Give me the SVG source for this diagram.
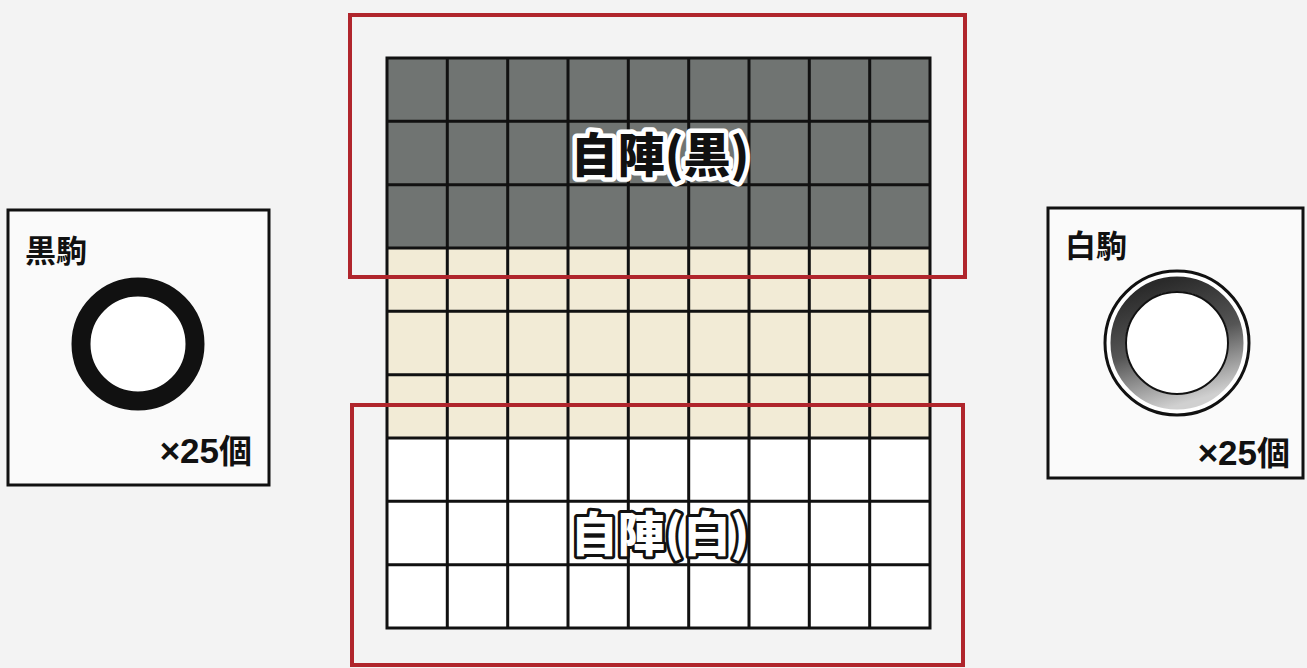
<svg xmlns="http://www.w3.org/2000/svg" width="1307" height="668" viewBox="0 0 1307 668">
<style>
.grid{stroke:#111;stroke-width:3;fill:none}
.red{fill:none;stroke:#b0252c;stroke-width:4}
.box{fill:#fafafa;stroke:#111;stroke-width:3}
.lbl{font-family:"Noto Sans CJK JP","Noto Sans",sans-serif;font-weight:bold;fill:#111}
.num{font-family:"Liberation Sans",Arial,sans-serif;font-weight:bold}
.big{font-family:"Noto Sans CJK JP","Noto Sans",sans-serif;font-weight:900;font-size:47px;paint-order:stroke;stroke-linejoin:round}
</style>
<defs>
<linearGradient id="ringg" x1="0.3" y1="0" x2="0.6" y2="1">
<stop offset="0" stop-color="#2a2a2a"/>
<stop offset="0.5" stop-color="#555"/>
<stop offset="1" stop-color="#d0d0d0"/>
</linearGradient>
</defs>
<rect width="1307" height="668" fill="#f3f3f3"/>
<g id="board">
<rect x="387" y="58" width="543" height="190" fill="#707472"/>
<rect x="387" y="248" width="543" height="190" fill="#f2ebd6"/>
<rect x="387" y="438" width="543" height="190" fill="#ffffff"/>
<g class="grid">
<rect x="387" y="58" width="543" height="570"/>
<path d="M447.3 58V628M507.7 58V628M568 58V628M628.3 58V628M688.7 58V628M749 58V628M809.3 58V628M869.7 58V628"/>
<path d="M387 121.3H930M387 184.7H930M387 248H930M387 311.3H930M387 374.7H930M387 438H930M387 501.3H930M387 564.7H930"/>
</g>
</g>
<g id="black-camp">
<rect class="red" x="350" y="15" width="615" height="262"/>
<text class="big" x="660" y="172" text-anchor="middle" fill="#111" stroke="#fff" stroke-width="9">自陣(黒)</text>
</g>
<g id="white-camp">
<rect class="red" x="352" y="405" width="611" height="260"/>
<text class="big" x="660" y="551" text-anchor="middle" fill="#fff" stroke="#111" stroke-width="6">自陣(白)</text>
</g>
<g id="black-piece">
<rect class="box" x="8" y="210" width="261" height="275"/>
<text class="lbl" x="25" y="262" font-size="31">黒駒</text>
<circle cx="138" cy="344" r="57" fill="#fff" stroke="#111" stroke-width="19"/>
<text class="lbl" x="252" y="463" font-size="33" text-anchor="end"><tspan class="num" font-size="35">×25</tspan>個</text>
</g>
<g id="white-piece">
<rect class="box" x="1048" y="208" width="255" height="270"/>
<text class="lbl" x="1065" y="257" font-size="31">白駒</text>
<circle cx="1177" cy="343" r="72" fill="#fff" stroke="#111" stroke-width="3"/>
<circle cx="1177" cy="343" r="59" fill="none" stroke="url(#ringg)" stroke-width="15"/>
<circle cx="1177" cy="343" r="51" fill="#fff" stroke="#111" stroke-width="2"/>
<text class="lbl" x="1290" y="465" font-size="33" text-anchor="end"><tspan class="num" font-size="35">×25</tspan>個</text>
</g>
</svg>
